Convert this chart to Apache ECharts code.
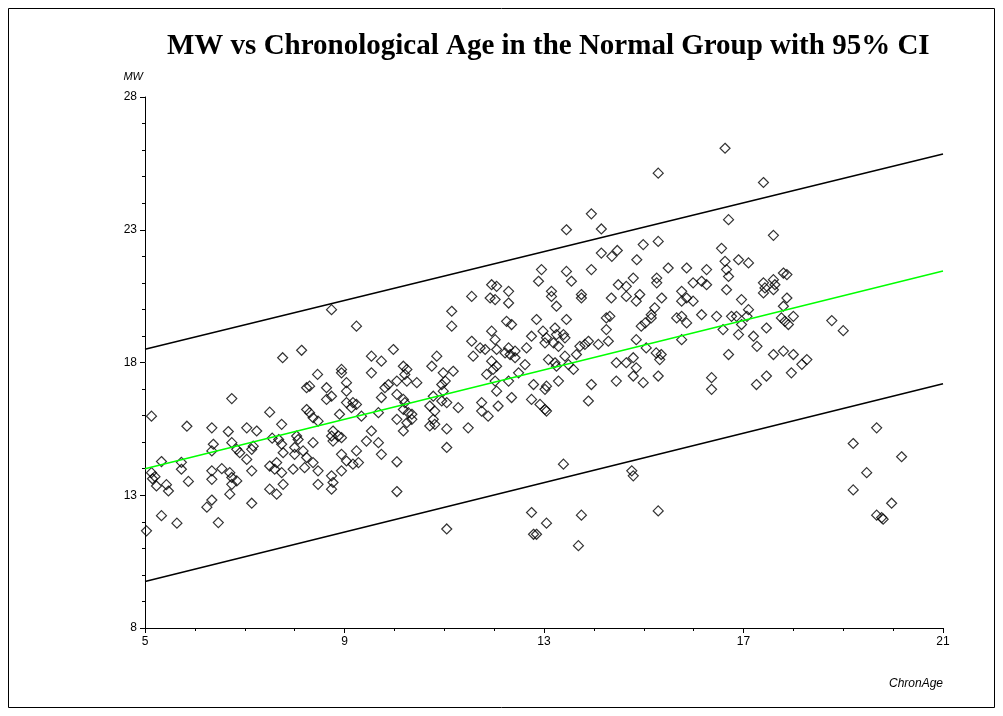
<!DOCTYPE html>
<html>
<head>
<meta charset="utf-8">
<script src="https://cdn.jsdelivr.net/npm/echarts@6/dist/echarts.min.js"></script>
<style>
  html, body { margin: 0; background: #fff; }
  #chart { width: 1003px; height: 716px; }
</style>
</head>
<body>
<div id="chart"></div>
<script>
// chronological age vs MW
const normalGroup = [
  [5.03, 11.66], [5.13, 15.98], [5.33, 14.27], [5.13, 13.85], [5.2, 13.7], [5.15, 13.62],
  [5.23, 13.35], [5.43, 13.4], [5.47, 13.16], [5.33, 12.23], [5.64, 11.95], [5.73, 14.24],
  [5.73, 13.98], [5.87, 13.52], [5.84, 15.6], [6.34, 13.92], [6.34, 13.6], [6.54, 14.0],
  [6.24, 12.55], [6.34, 12.82], [6.47, 11.97], [6.7, 13.85], [6.74, 13.67], [6.84, 13.54],
  [6.74, 13.41], [6.7, 13.04], [6.34, 14.67], [6.37, 14.92], [6.34, 15.54], [6.67, 15.4],
  [6.74, 14.98], [6.84, 14.73], [6.9, 14.6], [7.04, 14.35], [7.14, 14.73], [7.17, 14.85],
  [7.14, 13.92], [7.14, 12.7], [7.5, 14.1], [7.64, 14.23], [7.6, 13.98], [7.74, 14.92],
  [7.77, 14.6], [7.74, 13.85], [7.77, 13.41], [7.5, 13.23], [7.64, 13.04], [7.55, 15.15],
  [7.68, 15.1], [8.0, 14.8], [8.07, 15.1], [8.04, 15.23], [8.0, 14.54], [7.97, 13.98],
  [8.17, 14.67], [8.24, 14.42], [8.2, 14.04], [8.37, 14.98], [8.37, 14.23], [8.47, 13.92],
  [8.47, 13.41], [8.74, 15.23], [8.77, 15.04], [8.74, 13.73], [8.77, 13.48], [8.74, 13.23],
  [6.74, 16.64], [7.04, 15.54], [7.24, 15.42], [7.5, 16.13], [7.74, 15.67], [7.76, 18.18],
  [8.14, 18.46], [8.24, 17.05], [8.3, 17.11], [8.46, 17.55], [8.24, 16.23], [8.3, 16.11],
  [8.37, 15.92], [8.47, 15.79], [8.64, 17.05], [8.64, 16.61], [8.74, 16.73], [8.74, 19.99],
  [8.77, 15.42],
  [9.24, 19.37], [8.94, 17.74], [8.94, 17.61], [9.04, 17.24], [9.04, 16.92], [9.04, 16.49],
  [9.17, 16.49], [9.24, 16.42], [9.14, 16.3], [8.9, 16.05], [9.34, 15.98], [9.54, 18.24],
  [9.74, 18.05], [9.54, 17.61], [9.98, 18.49], [9.88, 17.17], [9.81, 17.05], [9.74, 16.68],
  [9.68, 16.11], [10.05, 17.3], [10.05, 16.8], [10.18, 17.86], [10.25, 17.74], [10.21, 17.55],
  [10.25, 17.3], [10.18, 16.61], [10.21, 16.49], [10.45, 17.24], [10.18, 16.23], [10.28, 16.11],
  [10.35, 16.05], [10.05, 15.86], [10.25, 15.73], [10.18, 15.42], [10.35, 15.86], [10.75, 17.86],
  [10.85, 18.24], [10.78, 16.73], [10.71, 16.36], [10.81, 16.17], [10.78, 15.86], [10.81, 15.67],
  [10.71, 15.61], [10.98, 17.61], [11.02, 17.3], [10.95, 17.17], [11.18, 17.67], [10.98, 16.92],
  [10.95, 16.55], [11.05, 16.49], [11.28, 16.3], [11.15, 19.93], [11.15, 19.37], [11.48, 15.54],
  [11.55, 20.49], [11.55, 18.8], [11.58, 18.24], [11.72, 18.55], [11.75, 16.49], [11.75, 16.17],
  [11.88, 15.98], [11.82, 18.49], [11.95, 19.18], [12.02, 18.86], [12.05, 18.49], [11.95, 18.05],
  [11.85, 17.55], [11.98, 17.74], [12.05, 17.86], [11.95, 20.93], [12.05, 20.87], [11.92, 20.43],
  [12.02, 20.37], [12.29, 20.68], [12.29, 20.24], [12.25, 19.55], [12.35, 19.43], [12.29, 18.55],
  [12.22, 18.36], [12.32, 18.3], [12.42, 18.43], [12.42, 18.18], [12.02, 17.3], [12.05, 16.92],
  [12.29, 17.3], [12.49, 17.61], [12.08, 16.36], [12.35, 16.68], [12.65, 18.55], [12.62, 17.92],
  [8.88, 15.23], [8.94, 15.17], [9.54, 15.42], [9.44, 15.04], [9.68, 14.98], [9.74, 14.54],
  [9.24, 14.67], [8.94, 14.54], [9.04, 14.29], [9.17, 14.17], [9.28, 14.23], [8.94, 13.92],
  [10.05, 14.26], [10.05, 13.14], [11.05, 14.8], [11.05, 11.73], [12.75, 12.35], [12.79, 11.53],
  [11.05, 15.5],
  [13.15, 20.68], [13.15, 20.49], [13.75, 20.56], [13.75, 20.43], [13.25, 20.12], [12.85, 19.62],
  [12.98, 19.18], [13.05, 18.93], [13.02, 18.74], [12.75, 18.99], [13.22, 19.3], [13.25, 19.05],
  [13.29, 18.61], [13.19, 18.74], [13.45, 19.62], [13.39, 19.05], [13.42, 18.93], [13.09, 18.11],
  [13.22, 17.99], [13.25, 17.86], [13.42, 18.24], [13.49, 17.92], [13.59, 17.74], [12.79, 17.17],
  [13.05, 17.11], [13.02, 16.99], [13.29, 17.3], [12.75, 16.61], [12.92, 16.42], [13.02, 16.23],
  [13.05, 16.17], [13.72, 18.61], [13.82, 18.68], [13.89, 18.8], [14.09, 18.68], [14.29, 18.8],
  [13.65, 18.3], [13.95, 17.17], [13.89, 16.55], [14.25, 19.24], [14.25, 19.68], [14.32, 19.74],
  [14.35, 20.43], [14.49, 20.93], [14.65, 20.87], [14.65, 20.49], [14.85, 20.31], [14.92, 20.56],
  [15.36, 20.43], [15.22, 20.06], [15.15, 19.8], [15.03, 19.49], [14.95, 19.37], [15.15, 19.68],
  [14.45, 17.99], [14.65, 17.99], [14.79, 18.18], [14.85, 17.8], [14.79, 17.49], [14.99, 17.24],
  [14.45, 17.3], [15.29, 17.49], [14.85, 18.86], [15.05, 18.55], [15.25, 18.36], [15.35, 18.3],
  [15.32, 18.11], [15.76, 20.68], [15.76, 20.31], [15.86, 20.43], [15.99, 20.31], [15.66, 19.68],
  [15.76, 19.74], [15.86, 19.49], [15.76, 18.86], [16.16, 19.8], [16.46, 19.74], [16.59, 19.24],
  [16.36, 17.43], [16.36, 16.99], [16.7, 18.3],
  [16.66, 20.74], [16.96, 20.37], [17.43, 20.81], [17.6, 20.74], [17.4, 20.62], [17.63, 20.93],
  [17.87, 20.43], [17.1, 19.99], [17.07, 19.74], [16.76, 19.74], [16.86, 19.74], [16.96, 19.43],
  [16.9, 19.05], [17.2, 18.99], [17.27, 18.61], [17.46, 19.3], [17.8, 20.12], [17.76, 19.68],
  [17.83, 19.55], [18.0, 19.74], [17.9, 19.43], [17.6, 18.3], [17.8, 18.43], [18.0, 18.3],
  [18.17, 17.93], [18.27, 18.11], [17.96, 17.61], [17.26, 17.17], [17.46, 17.49], [18.77, 19.58],
  [19.0, 19.2], [19.67, 15.54],
  [15.29, 25.13], [16.63, 26.07], [13.95, 23.6], [13.45, 23.0], [14.15, 23.03], [14.15, 22.12],
  [14.36, 22.0], [14.47, 22.22], [14.99, 22.44], [15.29, 22.56], [14.86, 21.87], [15.49, 21.56],
  [15.86, 21.56], [16.26, 21.5], [12.95, 21.5], [12.89, 21.06], [13.45, 21.43], [13.55, 21.06],
  [13.95, 21.5], [14.79, 21.18], [15.26, 21.18], [15.26, 21.0], [15.99, 21.0], [16.16, 21.06],
  [16.26, 20.93], [16.56, 22.3], [16.63, 21.81], [16.66, 21.5], [16.7, 21.24], [16.7, 23.38],
  [17.4, 24.78], [17.6, 22.79], [16.9, 21.87], [17.1, 21.75], [17.4, 21.0], [17.6, 21.12],
  [17.8, 21.37], [17.87, 21.31],
  [13.39, 14.17], [13.05, 11.95], [12.85, 11.53], [13.75, 12.25], [13.69, 11.1], [14.76, 13.92],
  [14.79, 13.73], [15.29, 12.41],
  [19.2, 14.95], [20.17, 14.45], [19.47, 13.85], [19.2, 13.2], [19.97, 12.7], [19.67, 12.25],
  [19.77, 12.16], [19.8, 12.1]
];

// regression line and 95% CI bounds (end points)
const fitLine = [[5, 14.0], [21, 21.45]];
const upperCI = [[5, 18.5], [21, 25.85]];
const lowerCI = [[5, 9.75], [21, 17.2]];

const xMin = 5, xMax = 21, xStep = 4;
const yMin = 8, yMax = 28, yStep = 5;

const chart = echarts.init(document.getElementById('chart'), null, { renderer: 'canvas' });

const labelFont = { color: '#000', fontFamily: 'Liberation Sans', fontSize: 12 };

const option = {
  animation: false,
  backgroundColor: '#fff',
  title: {
    text: 'MW vs Chronological Age in the Normal Group with 95% CI',
    left: 162,
    top: 27,
    textStyle: {
      fontFamily: 'Liberation Serif',
      fontWeight: 'bold',
      fontSize: 29,
      color: '#000'
    }
  },
  graphic: [
    {
      type: 'rect',
      shape: { x: 8.5, y: 8.5, width: 986, height: 699 },
      style: { fill: null, stroke: '#000', lineWidth: 1 },
      silent: true
    }
  ],
  grid: { left: 145, right: 60, top: 97, bottom: 88 },
  xAxis: {
    type: 'value',
    min: xMin,
    max: xMax,
    interval: xStep,
    name: 'ChronAge',
    nameLocation: 'end',
    nameGap: 0,
    nameTextStyle: {
      fontFamily: 'Liberation Sans',
      fontStyle: 'italic',
      fontSize: 12,
      color: '#000',
      align: 'right',
      verticalAlign: 'top',
      padding: [50, 0, 0, 0]
    },
    axisLine: { show: true, lineStyle: { color: '#000', width: 1 } },
    axisTick: { show: true, length: 5, lineStyle: { color: '#000' } },
    minorTick: { show: true, splitNumber: 4, length: 3, lineStyle: { color: '#000' } },
    axisLabel: Object.assign({ margin: 8 }, labelFont),
    splitLine: { show: false }
  },
  yAxis: {
    type: 'value',
    min: yMin,
    max: yMax,
    interval: yStep,
    name: 'MW',
    nameLocation: 'end',
    nameGap: 15,
    nameTextStyle: {
      fontFamily: 'Liberation Sans',
      fontStyle: 'italic',
      fontSize: 11,
      color: '#000',
      align: 'right',
      padding: [0, 2, 0, 0]
    },
    axisLine: { show: true, lineStyle: { color: '#000', width: 1 } },
    axisTick: { show: true, length: 5, lineStyle: { color: '#000' } },
    minorTick: { show: true, splitNumber: 5, length: 3, lineStyle: { color: '#000' } },
    axisLabel: Object.assign({ margin: 8 }, labelFont),
    splitLine: { show: false }
  },
  series: [
    {
      name: 'Normal',
      type: 'scatter',
      data: normalGroup,
      symbol: 'diamond',
      symbolSize: 10,
      itemStyle: { color: 'rgba(0,0,0,0)', borderColor: '#000', borderWidth: 1.2 },
      z: 2
    },
    {
      name: 'Upper 95% CI',
      type: 'line',
      data: upperCI,
      showSymbol: false,
      lineStyle: { color: '#000', width: 1.5 },
      z: 3
    },
    {
      name: 'Fit',
      type: 'line',
      data: fitLine,
      showSymbol: false,
      lineStyle: { color: '#00ff00', width: 1.5 },
      z: 3
    },
    {
      name: 'Lower 95% CI',
      type: 'line',
      data: lowerCI,
      showSymbol: false,
      lineStyle: { color: '#000', width: 1.5 },
      z: 3
    }
  ]
};

chart.setOption(option);
</script>
</body>
</html>
